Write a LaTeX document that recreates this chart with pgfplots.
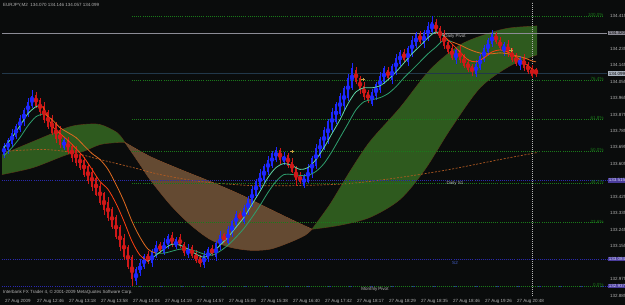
\documentclass[border=0pt]{standalone}
\usepackage{pgfplots}
\pgfplotsset{compat=1.18}
\usepackage{pgfplotstable}
\usepgfplotslibrary{fillbetween}
\usepackage{fontspec}
\setmainfont{Liberation Sans}
\definecolor{bg}{HTML}{0A0C0C}
\definecolor{frame}{HTML}{8C8C96}
\definecolor{lab}{HTML}{B4B4B4}
\definecolor{upc}{HTML}{1E28FF}
\definecolor{dnc}{HTML}{D01818}
\definecolor{cgreen}{HTML}{2E5A1E}
\definecolor{cgedge}{HTML}{6A2A14}
\definecolor{cbrown}{HTML}{644A32}
\definecolor{cbedge}{HTML}{B8602A}
\definecolor{fastG}{HTML}{5FD8A8}
\definecolor{slowG}{HTML}{2E9E6E}
\definecolor{fastR}{HTML}{FF4010}
\definecolor{slowR}{HTML}{E06A20}
\definecolor{fib}{HTML}{1A7A1A}
\definecolor{piv}{HTML}{2A2AB0}
\definecolor{pivlab}{HTML}{4A3C9C}
\definecolor{longma}{HTML}{B05A22}
\definecolor{bidc}{HTML}{22384A}
\definecolor{s2c}{HTML}{4664D2}
\definecolor{bidlab}{HTML}{AAB4C0}
\definecolor{pivtxt}{HTML}{D8D8F8}
\definecolor{fractal}{HTML}{C8A040}
\newcommand{\sz}{\fontsize{4.5}{5}\selectfont}

\pgfplotstableread{
i o h l c
0 133.651 133.722 133.640 133.705
1 133.684 133.749 133.662 133.738
2 133.716 133.798 133.700 133.776
3 133.754 133.825 133.743 133.814
4 133.792 133.874 133.782 133.858
5 133.836 133.912 133.814 133.901
6 133.880 133.967 133.863 133.945
7 133.923 134.010 133.912 133.978
15 133.694 133.749 133.684 133.738
33 132.965 133.041 132.943 133.030
34 133.008 133.084 132.992 133.063
35 133.041 133.112 133.030 133.101
37 133.063 133.139 133.041 133.128
38 133.106 133.182 133.090 133.161
40 133.117 133.199 133.106 133.182
41 133.161 133.221 133.139 133.210
43 133.150 133.204 133.139 133.193
46 133.106 133.166 133.090 133.144
50 133.052 133.128 133.035 133.106
51 133.084 133.150 133.073 133.139
53 133.095 133.182 133.073 133.171
54 133.150 133.237 133.133 133.215
56 133.171 133.264 133.161 133.248
57 133.226 133.302 133.204 133.291
58 133.270 133.351 133.253 133.329
60 133.291 133.384 133.280 133.368
61 133.346 133.428 133.324 133.417
62 133.389 133.487 133.373 133.466
63 133.433 133.526 133.422 133.515
64 133.477 133.575 133.466 133.558
65 133.520 133.607 133.498 133.596
66 133.564 133.651 133.547 133.629
67 133.596 133.673 133.585 133.662
68 133.629 133.700 133.618 133.684
70 133.618 133.673 133.602 133.651
75 133.487 133.553 133.477 133.542
76 133.509 133.602 133.498 133.585
77 133.553 133.651 133.531 133.640
78 133.596 133.716 133.580 133.694
79 133.651 133.754 133.640 133.743
80 133.694 133.809 133.684 133.792
81 133.738 133.852 133.716 133.842
82 133.792 133.912 133.776 133.890
83 133.836 133.945 133.825 133.934
84 133.880 133.994 133.869 133.978
85 133.923 134.032 133.901 134.021
86 133.967 134.098 133.950 134.076
87 134.021 134.157 134.010 134.130
92 133.934 134.016 133.923 133.999
93 133.978 134.054 133.956 134.043
94 134.010 134.108 133.994 134.087
95 134.054 134.141 134.043 134.130
97 134.065 134.152 134.043 134.141
98 134.108 134.207 134.092 134.185
99 134.152 134.228 134.141 134.217
101 134.163 134.250 134.141 134.239
102 134.207 134.304 134.190 134.283
103 134.250 134.326 134.239 134.315
105 134.261 134.337 134.239 134.326
106 134.294 134.381 134.277 134.359
107 134.326 134.411 134.315 134.381
113 134.174 134.239 134.152 134.228
118 134.098 134.174 134.081 134.152
119 134.130 134.207 134.119 134.196
120 134.174 134.255 134.163 134.239
121 134.217 134.294 134.196 134.283
122 134.261 134.337 134.244 134.315
125 134.217 134.272 134.196 134.261
129 134.141 134.196 134.119 134.185
}\upbars

\pgfplotstableread{
i o h l c
8 133.983 133.999 133.912 133.923
9 133.956 133.967 133.869 133.890
10 133.923 133.945 133.831 133.847
11 133.890 133.901 133.798 133.809
12 133.858 133.874 133.765 133.776
13 133.825 133.836 133.722 133.743
14 133.792 133.814 133.694 133.711
16 133.738 133.754 133.662 133.673
17 133.705 133.716 133.618 133.640
18 133.684 133.705 133.596 133.613
19 133.656 133.667 133.575 133.585
20 133.629 133.645 133.536 133.547
21 133.596 133.607 133.493 133.515
22 133.564 133.585 133.460 133.477
23 133.531 133.542 133.428 133.438
24 133.487 133.504 133.384 133.395
25 133.444 133.455 133.329 133.351
26 133.400 133.422 133.291 133.308
27 133.357 133.368 133.248 133.259
28 133.313 133.329 133.193 133.204
29 133.259 133.270 133.128 133.150
30 133.204 133.226 133.079 133.095
31 133.150 133.161 133.030 133.041
32 133.095 133.106 132.937 132.975
36 133.112 133.128 133.057 133.068
39 133.171 133.182 133.117 133.128
42 133.215 133.237 133.150 133.166
44 133.204 133.221 133.144 133.155
45 133.171 133.182 133.101 133.122
47 133.150 133.161 133.090 133.101
48 133.117 133.133 133.063 133.073
49 133.095 133.106 133.041 133.057
52 133.144 133.161 133.101 133.112
55 133.221 133.231 133.171 133.182
59 133.335 133.346 133.291 133.302
69 133.684 133.694 133.607 133.629
71 133.656 133.667 133.585 133.596
72 133.618 133.635 133.553 133.564
73 133.585 133.596 133.487 133.520
74 133.542 133.564 133.493 133.509
88 134.119 134.136 134.043 134.054
89 134.076 134.087 133.989 134.010
90 134.032 134.054 133.956 133.972
91 133.999 134.010 133.939 133.950
96 134.119 134.136 134.065 134.076
100 134.217 134.234 134.163 134.174
104 134.315 134.332 134.261 134.272
108 134.381 134.397 134.315 134.326
109 134.348 134.359 134.272 134.294
110 134.315 134.337 134.234 134.250
111 134.272 134.283 134.207 134.217
112 134.239 134.255 134.174 134.185
114 134.228 134.250 134.157 134.174
115 134.196 134.207 134.130 134.141
116 134.163 134.179 134.108 134.119
117 134.141 134.152 134.087 134.108
123 134.315 134.326 134.261 134.272
124 134.283 134.299 134.228 134.239
126 134.261 134.283 134.190 134.207
127 134.228 134.239 134.163 134.174
128 134.196 134.212 134.141 134.152
130 134.185 134.207 134.114 134.130
131 134.152 134.163 134.098 134.108
132 134.130 134.146 134.076 134.087
133 134.123 134.130 134.080 134.099
}\dnbars

\pgfplotstableread{
i v
0 133.694
2 133.749
4 133.814
6 133.880
8 133.918
9 133.923
10 133.907
12 133.814
14 133.771
16 133.733
18 133.689
20 133.640
22 133.575
24 133.509
26 133.466
28 133.389
30 133.291
32 133.182
34 133.106
36 133.073
38 133.106
40 133.139
42 133.166
44 133.161
46 133.139
48 133.112
50 133.095
52 133.117
54 133.161
56 133.204
58 133.259
60 133.313
62 133.384
64 133.455
66 133.531
68 133.585
70 133.607
72 133.596
74 133.575
76 133.585
78 133.629
80 133.694
82 133.771
84 133.847
86 133.934
88 133.999
90 134.021
92 134.021
94 134.032
96 134.065
98 134.108
100 134.157
102 134.207
104 134.250
106 134.294
108 134.326
110 134.304
112 134.261
114 134.217
116 134.174
118 134.163
120 134.185
122 134.217
124 134.228
126 134.217
128 134.190
130 134.157
132 134.125
133 134.108
}\fastma

\pgfplotstableread{
i v
0 133.651
2 133.694
4 133.749
6 133.814
8 133.863
10 133.880
12 133.847
14 133.803
16 133.776
18 133.749
20 133.705
22 133.662
24 133.629
26 133.575
28 133.493
30 133.400
32 133.291
34 133.204
36 133.139
38 133.117
40 133.117
42 133.128
44 133.139
46 133.139
48 133.128
50 133.112
52 133.106
54 133.128
56 133.161
58 133.204
60 133.253
62 133.313
64 133.378
66 133.449
68 133.509
70 133.547
72 133.547
74 133.542
76 133.542
78 133.564
80 133.607
82 133.673
84 133.749
86 133.825
88 133.901
90 133.945
92 133.956
94 133.967
96 133.989
98 134.027
100 134.076
102 134.119
104 134.163
106 134.207
108 134.244
110 134.283
112 134.272
114 134.255
116 134.234
118 134.217
120 134.207
122 134.207
124 134.212
126 134.207
128 134.196
130 134.185
132 134.168
133 134.163
}\slowma

\pgfplotstableread{
i v
-0.5 133.656
7.25 133.727
15.75 133.803
19.75 133.820
24 133.820
28.25 133.776
30.25 133.722
}\gUa
\pgfplotstableread{
i v
-0.5 133.547
7.25 133.585
15.75 133.656
19.75 133.673
24 133.711
28.25 133.722
30.25 133.722
}\gLa
\pgfplotstableread{
i v
30.25 133.722
36.5 133.645
44 133.575
51.5 133.509
59 133.438
66.5 133.357
72.75 133.291
77 133.248
}\bU
\pgfplotstableread{
i v
30.25 133.722
34 133.602
36.5 133.520
41.5 133.384
46.5 133.275
51.5 133.193
56.5 133.150
61.5 133.133
66.5 133.139
71.5 133.177
75.25 133.215
77 133.248
}\bL
\pgfplotstableread{
i v
77 133.248
81.5 133.384
86.5 133.564
91.5 133.727
99 133.912
106.5 134.119
114 134.255
121.5 134.321
126.5 134.348
133.25 134.359
}\gUb
\pgfplotstableread{
i v
77 133.248
84 133.270
91.5 133.313
99 133.411
105.25 133.575
111.5 133.792
119 134.021
126.5 134.141
133.25 134.201
}\gLb
\pgfplotstableread{
i v
-0.5 133.673
9.75 133.684
17 133.667
24 133.629
32.25 133.585
39 133.547
49 133.509
61.5 133.487
74 133.487
86.5 133.498
99 133.531
111.5 133.575
124 133.629
133.25 133.667
}\longma

\begin{document}
\begin{tikzpicture}
\fill[bg] (0,0) rectangle (625pt,305pt);
\begin{axis}[
  at={(2pt,9pt)}, anchor=south west,
  scale only axis, width=605pt, height=294pt,
  xmin=-0.5, xmax=150.75, ymin=132.883, ymax=134.490,
  clip=false,
  axis line style={frame, line width=0.5pt},
  xtick={0,8,...,128},
  xticklabels={27 Aug 2009,27 Aug 12:46,27 Aug 13:18,27 Aug 13:58,27 Aug 14:04,27 Aug 14:19,27 Aug 14:57,27 Aug 15:09,27 Aug 15:38,27 Aug 16:40,27 Aug 17:42,27 Aug 18:17,27 Aug 18:29,27 Aug 18:35,27 Aug 18:46,27 Aug 19:26,27 Aug 20:48},
  xtick pos=left, ytick pos=right, yticklabel pos=right,
  tick align=outside, major tick length=2pt,
  tick style={frame, line width=0.4pt},
  xticklabel style={font=\sz, text=lab, anchor=north west, inner sep=0.5pt, xshift=0.5pt, yshift=-0.5pt},
  ytick={132.885,132.975,133.155,133.245,133.335,133.425,133.605,133.695,133.785,133.875,133.965,134.055,134.145,134.235,134.415},
  scaled y ticks=false,
  yticklabel style={font=\sz, text=lab, inner sep=1pt, /pgf/number format/fixed, /pgf/number format/precision=3, /pgf/number format/fixed zerofill, /pgf/number format/assume math mode=true},
]
% cloud
\addplot[name path=gua, draw=cgedge, line width=0.6pt, smooth] table[x=i,y=v] {\gUa};
\addplot[name path=gla, draw=cgedge, line width=0.6pt, smooth] table[x=i,y=v] {\gLa};
\addplot[cgreen] fill between[of=gua and gla, on layer=main];
\addplot[name path=bu, draw=cbedge, line width=0.5pt, smooth] table[x=i,y=v] {\bU};
\addplot[name path=bl, draw=cbedge!70!black, line width=0.5pt, smooth] table[x=i,y=v] {\bL};
\addplot[cbrown] fill between[of=bu and bl, on layer=main];
\addplot[name path=gub, draw=cgedge, line width=0.6pt, smooth] table[x=i,y=v] {\gUb};
\addplot[name path=glb, draw=cgedge, line width=0.6pt, smooth] table[x=i,y=v] {\gLb};
\addplot[cgreen] fill between[of=gub and glb, on layer=main];
% long MA
\addplot[longma, line width=0.7pt, dash pattern=on 2pt off 1.5pt, smooth] table[x=i,y=v] {\longma};
% horizontal lines
\addplot[frame, line width=0.6pt] coordinates {(-0.5,134.320) (150.75,134.320)};
\addplot[bidc, line width=0.9pt] coordinates {(-0.5,134.099) (150.75,134.099)};
\addplot[piv, line width=0.45pt, dash pattern=on 0.5pt off 1.6pt] coordinates {(-0.5,133.515) (150.75,133.515)};
\addplot[piv, line width=0.45pt, dash pattern=on 0.5pt off 1.6pt] coordinates {(-0.5,133.084) (150.75,133.084)};
\addplot[piv, line width=0.45pt, dash pattern=on 0.5pt off 1.6pt] coordinates {(-0.5,132.937) (150.75,132.937)};
\addplot[fib, line width=0.45pt, dash pattern=on 0.5pt off 1.6pt] coordinates {(32,134.411) (150,134.411)};
\addplot[fib, line width=0.45pt, dash pattern=on 0.5pt off 1.6pt] coordinates {(32,134.063) (150,134.063)};
\addplot[fib, line width=0.45pt, dash pattern=on 0.5pt off 1.6pt] coordinates {(32,133.848) (150,133.848)};
\addplot[fib, line width=0.45pt, dash pattern=on 0.5pt off 1.6pt] coordinates {(32,133.674) (150,133.674)};
\addplot[fib, line width=0.45pt, dash pattern=on 0.5pt off 1.6pt] coordinates {(32,133.500) (150,133.500)};
\addplot[fib, line width=0.45pt, dash pattern=on 0.5pt off 1.6pt] coordinates {(32,133.285) (150,133.285)};
\addplot[fib, line width=0.45pt, dash pattern=on 0.5pt off 1.6pt] coordinates {(32,132.937) (150,132.937)};
\addplot[lab, line width=0.5pt, dash pattern=on 0.6pt off 1.4pt] coordinates {(132,132.883) (132,134.490)};
% candles: wicks and bodies
\addplot[upc, only marks, mark=none, error bars/.cd, y dir=both, y explicit, error mark=none, error bar style={upc, line width=0.6pt}]
  table[x=i, y expr={(\thisrow{h}+\thisrow{l})/2}, y error expr={(\thisrow{h}-\thisrow{l})/2}] {\upbars};
\addplot[upc, only marks, mark=none, error bars/.cd, y dir=both, y explicit, error mark=none, error bar style={upc, line width=2.1pt}]
  table[x=i, y expr={(\thisrow{o}+\thisrow{c})/2}, y error expr={(\thisrow{c}-\thisrow{o})/2}] {\upbars};
\addplot[dnc, only marks, mark=none, error bars/.cd, y dir=both, y explicit, error mark=none, error bar style={dnc, line width=0.6pt}]
  table[x=i, y expr={(\thisrow{h}+\thisrow{l})/2}, y error expr={(\thisrow{h}-\thisrow{l})/2}] {\dnbars};
\addplot[dnc, only marks, mark=none, error bars/.cd, y dir=both, y explicit, error mark=none, error bar style={dnc, line width=2.1pt}]
  table[x=i, y expr={(\thisrow{o}+\thisrow{c})/2}, y error expr={(\thisrow{o}-\thisrow{c})/2}] {\dnbars};
% moving averages
\addplot[slowG, line width=0.8pt, smooth, restrict x to domain=0:10] table[x=i,y=v] {\slowma};
\addplot[slowR, line width=0.8pt, smooth, restrict x to domain=10:38] table[x=i,y=v] {\slowma};
\addplot[slowG, line width=0.8pt, smooth, restrict x to domain=38:112] table[x=i,y=v] {\slowma};
\addplot[slowR, line width=0.8pt, smooth, restrict x to domain=112:133] table[x=i,y=v] {\slowma};
\addplot[fastG, line width=0.8pt, smooth, restrict x to domain=0:9] table[x=i,y=v] {\fastma};
\addplot[fastR, line width=0.8pt, smooth, restrict x to domain=9:36] table[x=i,y=v] {\fastma};
\addplot[fastG, line width=0.8pt, smooth, restrict x to domain=36:110] table[x=i,y=v] {\fastma};
\addplot[fastR, line width=0.8pt, smooth, restrict x to domain=110:133] table[x=i,y=v] {\fastma};
% fractal marks
\addplot[fractal, only marks, mark=+, mark size=1.6pt, line width=0.5pt] coordinates {(72,133.673) (89.75,134.065) (126.75,134.228)};
% texts
\node[font=\sz, text=lab, anchor=north west, inner sep=1pt] at (rel axis cs:0,1) {EURJPY,M2\ \ 134.070 134.146 134.057 134.099};
\node[font=\sz, text=lab, anchor=west, inner sep=1pt] at (axis cs:-0.5,132.905) {Interbank FX Trader 4, © 2001-2009 MetaQuotes Software Corp.};
\node[font=\sz, text=lab, inner sep=0.5pt] at (axis cs:112.75,134.300) {Daily Pivot};
\node[font=\sz, text=lab, inner sep=0.5pt] at (axis cs:112.75,133.497) {Daily S1};
\node[font=\sz, text=s2c, inner sep=0.5pt] at (axis cs:112.75,133.066) {S2};
\node[font=\sz, text=lab, inner sep=0.5pt] at (axis cs:92.75,132.919) {Monthly Pivot};
\node[font=\sz, text=fib, anchor=east, inner sep=0.3pt, yshift=1pt] at (axis cs:150,134.411) {100.0\%};
\node[font=\sz, text=fib, anchor=east, inner sep=0.3pt, yshift=1pt] at (axis cs:150,134.063) {76.4\%};
\node[font=\sz, text=fib, anchor=east, inner sep=0.3pt, yshift=1pt] at (axis cs:150,133.848) {61.8\%};
\node[font=\sz, text=fib, anchor=east, inner sep=0.3pt, yshift=1pt] at (axis cs:150,133.674) {50.0\%};
\node[font=\sz, text=fib, anchor=east, inner sep=0.3pt, yshift=1pt] at (axis cs:150,133.500) {38.2\%};
\node[font=\sz, text=fib, anchor=east, inner sep=0.3pt, yshift=1pt] at (axis cs:150,133.285) {23.6\%};
\node[font=\sz, text=fib, anchor=east, inner sep=0.3pt, yshift=1pt] at (axis cs:150,132.937) {0.0\%};
\node[font=\sz, fill=frame, text=black, anchor=west, inner sep=0.6pt, xshift=1pt] at (axis cs:150.75,134.320) {134.320};
\node[font=\sz, fill=bidlab, text=black, anchor=west, inner sep=0.6pt, xshift=1pt] at (axis cs:150.75,134.099) {134.099};
\node[font=\sz, fill=pivlab, text=pivtxt, anchor=west, inner sep=0.6pt, xshift=1pt] at (axis cs:150.75,133.515) {133.515};
\node[font=\sz, fill=pivlab, text=pivtxt, anchor=west, inner sep=0.6pt, xshift=1pt] at (axis cs:150.75,133.084) {133.084};
\node[font=\sz, fill=pivlab, text=pivtxt, anchor=west, inner sep=0.6pt, xshift=1pt] at (axis cs:150.75,132.937) {132.937};
\end{axis}
\pgfresetboundingbox
\useasboundingbox (0,0) rectangle (625pt,305pt);
\end{tikzpicture}
\end{document}
